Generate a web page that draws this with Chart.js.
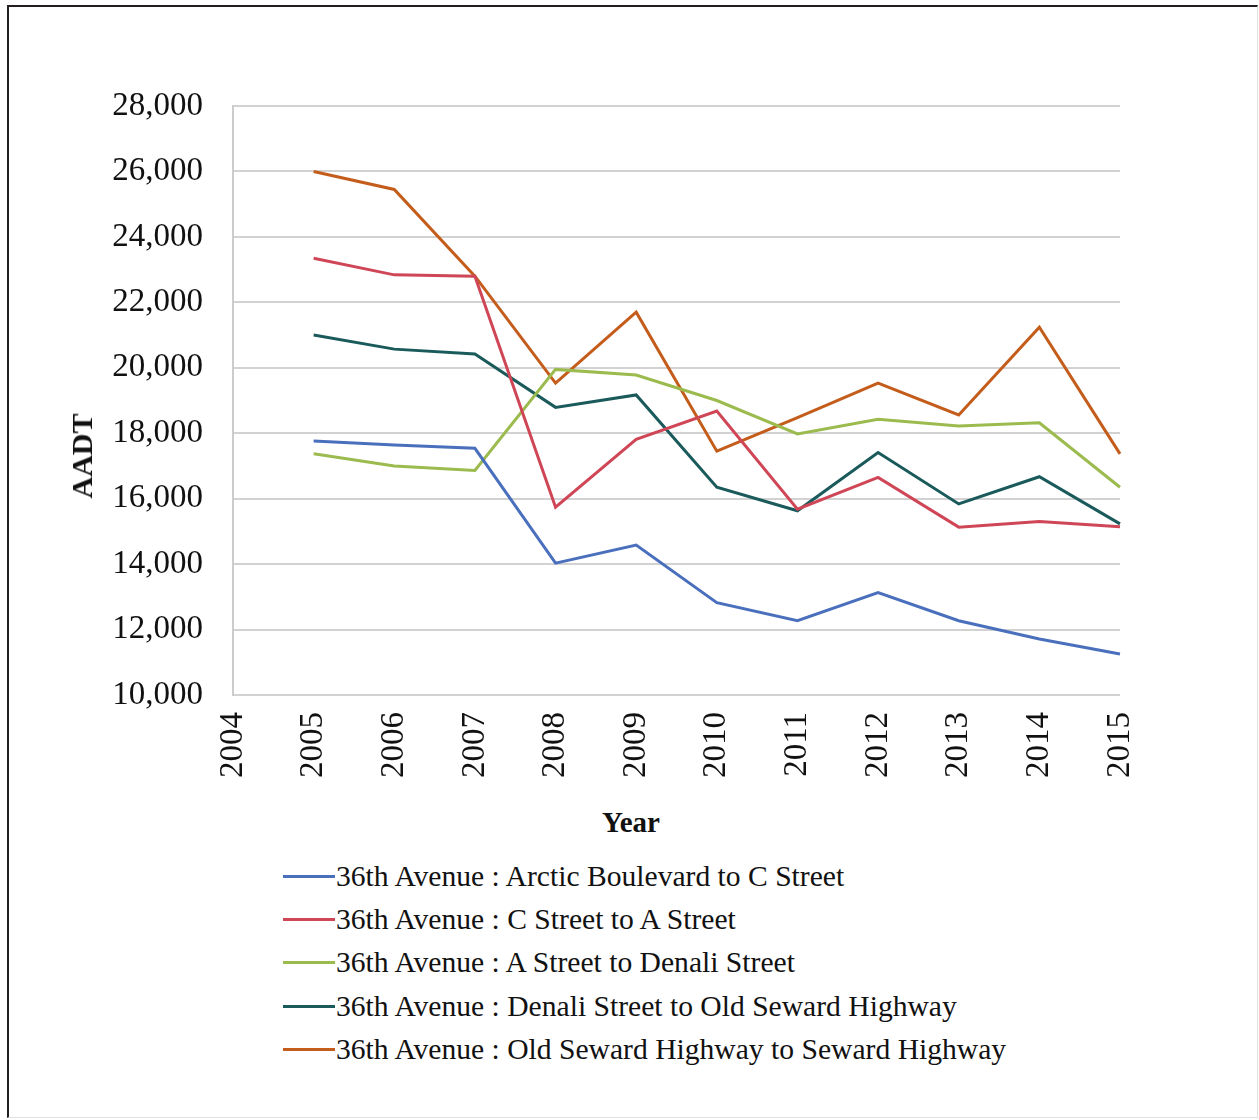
<!DOCTYPE html>
<html>
<head>
<meta charset="utf-8">
<title>36th Avenue AADT</title>
<script src="https://cdn.jsdelivr.net/npm/chart.js@4.4.1/dist/chart.umd.min.js"></script>
<style>
  body { margin: 0; background: #fff; }
  #wrap { position: relative; width: 1259px; height: 1120px; overflow: hidden; background: #fff; }
  #frame {
    position: absolute; left: 7px; top: 5px; width: 1248px; height: 1110px;
    border-top: 2px solid #231f20; border-left: 2px solid #231f20;
    border-right: 1px solid #e2e2e2; border-bottom: 1px solid #e2e2e2;
  }
  #chart { position: absolute; left: 0; top: 0; }
  .serif { font-family: "Liberation Serif", "Times New Roman", serif; color: #111; }
  #ytitle {
    position: absolute; left: 82px; top: 456px; font-size: 30px; font-weight: bold;
    transform: translate(-50%, -50%) rotate(-90deg); white-space: nowrap;
  }
  #xtitle {
    position: absolute; left: 631px; top: 822px; font-size: 29px; font-weight: bold;
    transform: translate(-50%, -50%); white-space: nowrap;
  }
  #legend { position: absolute; left: 283px; top: 855px; }
  .item { display: flex; align-items: center; height: 43.2px; font-size: 29.6px; white-space: nowrap; }
  .swatch { width: 52px; height: 3px; margin-right: 1px; }
</style>
</head>
<body>
<div id="wrap">
  <div id="frame"></div>
  <canvas id="chart" width="1259" height="790"></canvas>
  <div id="ytitle" class="serif">AADT</div>
  <div id="xtitle" class="serif">Year</div>
  <div id="legend" class="serif"></div>
</div>
<script>
var years = ['2004', '2005', '2006', '2007', '2008', '2009', '2010', '2011', '2012', '2013', '2014', '2015'];

// AADT per segment, no count for 2004
var arcticToC = [null, 17760, 17640, 17540, 14030, 14580, 12820, 12270, 13130, 12270, 11710, 11250];
var cToA = [null, 23350, 22840, 22800, 15740, 17810, 18680, 15680, 16650, 15130, 15300, 15140];
var aToDenali = [null, 17370, 17000, 16860, 19950, 19780, 19000, 17980, 18430, 18220, 18320, 16350];
var denaliToOldSeward = [null, 21000, 20570, 20420, 18790, 19170, 16350, 15630, 17410, 15840, 16670, 15230];
var oldSewardToSeward = [null, 26000, 25450, 22800, 19530, 21700, 17450, 18480, 19530, 18560, 21240, 17370];

var segmentNames = [
  '36th Avenue : Arctic Boulevard to C Street',
  '36th Avenue : C Street to A Street',
  '36th Avenue : A Street to Denali Street',
  '36th Avenue : Denali Street to Old Seward Highway',
  '36th Avenue : Old Seward Highway to Seward Highway'
];
var segmentColors = ['#4a70bd', '#cf4657', '#9cbb4e', '#1b5a5b', '#c45d1b'];
var series = [arcticToC, cToA, aToDenali, denaliToOldSeward, oldSewardToSeward];

var serifFamily = "'Liberation Serif', 'Times New Roman', serif";

var datasets = series.map(function (vals, i) {
  return {
    label: segmentNames[i],
    data: vals,
    borderColor: segmentColors[i],
    backgroundColor: segmentColors[i],
    borderWidth: 3,
    pointRadius: 0,
    tension: 0,
    fill: false
  };
});

var chart = new Chart(document.getElementById('chart'), {
  type: 'line',
  data: { labels: years, datasets: datasets },
  options: {
    responsive: false,
    devicePixelRatio: 1,
    animation: false,
    layout: { padding: { top: 106, right: 139, bottom: 0, left: 0 } },
    plugins: {
      legend: { display: false },
      tooltip: { enabled: false }
    },
    scales: {
      x: {
        type: 'category',
        offset: false,
        grid: { display: false, drawTicks: false },
        border: { display: false },
        ticks: {
          autoSkip: false,
          minRotation: 90,
          maxRotation: 90,
          padding: 17,
          color: '#111',
          font: { family: serifFamily, size: 33 }
        },
        afterFit: function (scale) { scale.height = 95; }
      },
      y: {
        min: 10000,
        max: 28000,
        ticks: {
          stepSize: 2000,
          padding: 30,
          color: '#111',
          font: { family: serifFamily, size: 33 },
          callback: function (v) { return v.toLocaleString('en-US'); }
        },
        grid: { color: '#d2d2d2', lineWidth: 2, drawTicks: false },
        border: { display: true, color: '#cccccc', width: 2 },
        afterFit: function (scale) { scale.width = 233; }
      }
    }
  }
});

// legend as a left-aligned list under the axis title
var legendBox = document.getElementById('legend');
chart.data.datasets.forEach(function (ds) {
  var row = document.createElement('div');
  row.className = 'item';
  var sw = document.createElement('span');
  sw.className = 'swatch';
  sw.style.background = ds.borderColor;
  var txt = document.createElement('span');
  txt.textContent = ds.label;
  row.appendChild(sw);
  row.appendChild(txt);
  legendBox.appendChild(row);
});
</script>
</body>
</html>
